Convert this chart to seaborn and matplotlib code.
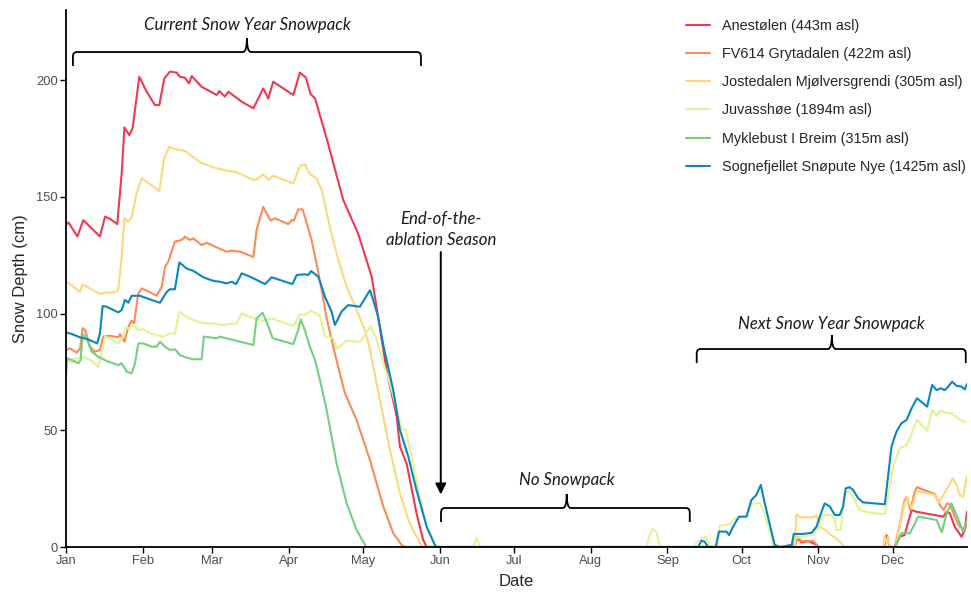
import numpy as np
import pandas as pd
import matplotlib
matplotlib.use("Agg")
import matplotlib.pyplot as plt
import seaborn as sns
from matplotlib.path import Path
from matplotlib.patches import PathPatch

# ---------------- data ----------------
stations = [
    "Anestølen (443m asl)",
    "FV614 Grytadalen (422m asl)",
    "Jostedalen Mjølversgrendi (305m asl)",
    "Juvasshøe (1894m asl)",
    "Myklebust I Breim (315m asl)",
    "Sognefjellet Snøpute Nye (1425m asl)",
]
colors = ["#EE3A4F", "#F98B56", "#FDD87C", "#E2F294", "#74CF7F", "#0A86C0"]

month_starts = [0, 31, 59, 90, 120, 151, 181, 212, 243, 273, 304, 334]
month_labels = ["Jan", "Feb", "Mar", "Apr", "May", "Jun", "Jul", "Aug", "Sep", "Oct", "Nov", "Dec"]
y_ticks = [0, 50, 100, 150, 200]

# day of year (0 = 1 Jan) and snow depth (cm)
anestolen_day = [0, 1, 4.6, 7, 13.7, 15.8, 17.8, 20.7, 22.5, 23.6, 25.6, 26.9, 29.6, 32.6, 35.9, 37.7,
                 39.7, 42, 44.7, 46, 48, 49.7, 50.8, 54.8, 60.9, 61.9, 64.2, 65.6, 71, 75.7, 79.7, 81.7,
                 83.7, 91.8, 94.5, 96.9, 98.8, 100.6, 105.3, 112, 118, 123.5, 129.5, 133.6, 134.9, 137.6,
                 141.6, 144.3, 145.7, 294, 295.5, 297, 300, 303, 304, 330.5, 331.5, 332.8, 335, 336.8,
                 338.8, 340.1, 341.6, 343.6, 354.4, 355.8, 357.1, 359, 361.8, 363.1, 364]
anestolen_cm = [138, 139, 133, 140, 133, 141.5, 140.5, 138.3, 160, 179.7, 176.4, 179.3, 201.4, 195, 189.3, 189.3,
                200.7, 203.6, 203.2, 201.4, 201, 198.6, 201.7, 197.1, 193.6, 195.3, 192.9, 195, 190.7, 187.9, 196.4, 192.1,
                199.3, 193.6, 203.2, 201.1, 194, 192.1, 175, 148.6, 134.3, 115.8, 75.8, 55.8, 43, 35.8,
                14.4, 3, 0, 0, 4, 2, 2.5, 1, 0, 0, 5, 0, 0, 4.4,
                5.1, 10.1, 15.8, 15.1, 13, 15.1, 14.4, 8.7, 4.4, 7.3, 15.1]

fv614_day = [0, 1.6, 4.3, 5.7, 6.7, 7.7, 9.7, 11.7, 13.7, 15.1, 17.8, 21.1, 21.8, 23.6, 25.2, 26.5, 27.5,
             29.2, 30.6, 33.9, 36.6, 38.7, 40, 41.3, 44, 46.7, 48.1, 50.1, 51.4, 54.8, 56.8, 60.9, 64.9,
             66.9, 70.3, 75.7, 77, 79.7, 81, 82.7, 84.4, 89.8, 91.2, 92.1, 93.8, 95.6, 96.9, 99.2, 101.2,
             103.3, 105.3, 108.6, 112.7, 117.4, 122.8, 128.2, 132.2, 135.6, 136.9, 294.4, 295.5, 297, 302,
             304, 334.8, 336.8, 338.8, 339.8, 341.1, 342.9, 343.8, 351, 353, 354.6, 356, 357.3, 359, 361.1,
             363.1, 364]
fv614_cm = [84.4, 85.1, 83.2, 85.1, 93.7, 92.9, 85.8, 83.6, 84.4, 90.1, 90.5, 89.8, 91.2, 87.9, 94.3, 96.9, 95.8,
            108.6, 110.8, 109.1, 107.6, 111.5, 120, 122.2, 130.8, 131.5, 132.9, 131.5, 132.2, 129.3, 130.3, 128.3, 126.5,
            126.9, 126.5, 124.2, 135.8, 145.7, 142.9, 139.8, 140.8, 138.3, 140, 139.8, 144.6, 144.6, 140, 131.5, 121.5,
            110, 98, 83, 65.8, 54.4, 37.3, 17.3, 5.9, 0.9, 0, 0, 4.5, 2.5, 2.5,
            0, 0, 9.4, 20.1, 21.3, 15.8, 23.7, 25.6, 22.7, 18, 15.8, 18.7, 18, 13, 8.7,
            7.3, 10.1]

jostedalen_day = [0, 3, 5.7, 6.7, 13.7, 16.4, 19.1, 21.1, 22.5, 23.6, 25.2, 26.5, 28.5, 30.6, 32.6, 37.7,
                  39.7, 41.7, 44, 48.1, 54.1, 59.5, 64.9, 68.9, 75.7, 77, 79.7, 81.7, 83.7, 91.8, 94.5, 96.5,
                  98.3, 101.2, 103.3, 106.6, 110, 113.4, 117.4, 120.8, 122.8, 126.8, 130.9, 134.9, 138.9, 143,
                  144.3, 294.4, 295.1, 296.6, 301.8, 303.2, 304.5, 307.2, 309.2, 311.2, 314.6, 330.3, 330.8,
                  331.5, 332.1, 332.8, 335, 336.8, 338.8, 339.8, 341.6, 343.6, 345, 351, 352.4, 354.4, 356.4,
                  358.2, 359.8, 361.1, 362.4, 364]
jostedalen_cm = [113.8, 111.5, 109.3, 112.5, 108.4, 109.1, 108.9, 110, 124.3, 140.8, 139.3, 141.2, 151.5, 157.9, 156.4, 152.5,
                 166.5, 171.4, 170.4, 169.6, 164.8, 162.6, 161.2, 160.5, 157.2, 157.5, 159.7, 157.2, 159, 155.8, 163.2, 164,
                 160, 157.9, 152.9, 137.2, 122.9, 111.5, 101.5, 92.9, 84.4, 63, 41.5, 23, 10.1, 1.6,
                 0, 0, 14, 12.7, 12.7, 13.7, 8.7, 7, 5, 3.7, 0, 0, 4.4,
                 1.6, 4.4, 0, 0, 8.7, 18.7, 20.9, 16.6, 23.7, 23.7, 22.3, 18.7, 22.3, 25.8,
                 29.4, 26.6, 22.3, 21.5, 30.1]

juvasshoe_day = [0, 0.9, 2.3, 3.6, 5.7, 7, 10.4, 13, 14.4, 15.8, 17.8, 21.1, 23.1, 23.8, 25.8, 27.2, 29.2,
                 31.2, 33.9, 39.3, 42, 44, 45.8, 48.7, 51.4, 55.5, 59.5, 63.5, 68.9, 71, 74.3, 76.3, 79.7,
                 83.1, 91.8, 94.5, 96.5, 99, 102.6, 104.6, 108, 109.3, 111, 113.4, 118.7, 120.8, 123.1, 125.5,
                 128.2, 130.9, 133.6, 135.6, 137.3, 139.6, 143, 145.7, 149, 150.4, 164.5, 165.9, 167.3, 234.5,
                 236, 237.2, 238.5, 240, 253.3, 254.7, 256.7, 258.5, 260.1, 260.8, 262.8, 264.1, 268.2, 269.8,
                 271.9, 274.9, 276.9, 280.3, 282.3, 285.7, 286.3, 293.1, 294.4, 297.1, 301.2, 303.8, 305.8,
                 308.6, 310.6, 311.2, 312.9, 313.9, 315, 316.6, 318, 320.7, 324.7, 330.8, 332.1, 334.2, 336.8,
                 339.6, 341.6, 343.8, 347.9, 349.9, 351.7, 353.1, 355.7, 358, 360.4, 362.4, 364]
juvasshoe_cm = [78.7, 80.1, 78.7, 80.8, 80.8, 81.5, 79.7, 77.2, 83, 90.1, 89.4, 87.2, 90.1, 93.7, 93.7, 95.1, 92.9,
                93.4, 91.5, 90.1, 91.5, 91.5, 100.8, 98.6, 97.2, 95.8, 95.8, 95.1, 95.8, 100, 98.6, 97.9, 96.9,
                97.9, 94.6, 99.8, 99.4, 101.2, 99, 90.1, 89.4, 85.1, 86.3, 88.5, 87.9, 90.8, 94.6, 89,
                78.7, 70.1, 58.7, 50.8, 50.1, 38.7, 21.5, 8.7, 0.9, 0, 0, 4, 0, 0,
                6, 7.6, 6.5, 0, 0, 1.8, 3.7, 4.4, 0.9, 0, 0, 9, 9.9, 11.8,
                12.7, 13, 18.4, 19, 14.4, 0.9, 0, 0, 3.7, 4.4, 5.1, 8, 13.7,
                13.7, 12.3, 7.3, 7.3, 15.8, 23.7, 23.3, 21.5, 15.8, 14.7, 14.1, 21.5, 34.4, 42.3,
                43.7, 48.7, 54.4, 49.8, 58.7, 56.1, 58.4, 57.5, 57.2, 55.1, 53.7, 53.7]

myklebust_day = [0, 0.5, 2.3, 5, 5.9, 6.7, 8.3, 10.4, 13, 16.4, 21.1, 22.5, 24.5, 26.5, 27.9, 29.2, 31.2,
                 34.6, 36.6, 38, 40, 42, 44, 46, 48.7, 51.4, 54.8, 55.7, 60.9, 62.2, 75.7, 77, 79.4, 81, 83.5,
                 91.8, 93.8, 94.8, 96.5, 98.5, 100.6, 102.6, 105.3, 109.3, 113.4, 117.4, 120.8, 121.4, 334.8,
                 337.5, 340.9, 342.9, 344.2, 351.7, 353.8, 355.8, 357.7, 359.8, 362.4, 364]
myklebust_cm = [73, 80.8, 80.1, 78.7, 80.1, 91.2, 89.4, 83.6, 81.5, 79.7, 77.9, 78.7, 75.1, 74.4, 78.7, 87.2, 87.2,
                85.8, 85.8, 87.9, 85.8, 84.4, 84.7, 82.2, 81.1, 80.4, 80.4, 90.1, 89.4, 90.1, 86.5, 97.9, 100.3, 96.5, 89.4,
                86.9, 92.9, 97.5, 92.9, 85.8, 80.1, 71.5, 58.7, 35.8, 18.7, 7.3, 0.9, 0, 0,
                5.9, 5.9, 9.9, 13, 11.6, 6.3, 14.4, 18.7, 13.7, 6.6, 11.6]

sognefjellet_day = [0, 1.6, 5.7, 9, 12.6, 13.7, 14.8, 16.4, 21.1, 22.5, 23.8, 25.2, 26.5, 29.9, 34.6, 38,
                    40.7, 42, 44, 45.8, 48.7, 51.4, 55.5, 59.5, 62.2, 64.9, 66.9, 68.7, 71, 74.3, 80.4, 83.1,
                    91.5, 93.2, 96.5, 97.9, 99, 101.9, 103.3, 104.6, 107.3, 108.6, 110, 111.3, 114, 118.7,
                    120.8, 122.8, 124.1, 126.1, 128.2, 132.2, 134.9, 138.3, 141.6, 145.7, 149, 149.7, 255.4,
                    256.7, 258, 259.4, 262.5, 263.8, 266.8, 267.9, 269.5, 271.9, 274.9, 276.9, 278.9, 280.7,
                    282.3, 286.3, 288.4, 291, 292.4, 293.1, 294, 297.8, 301.2, 303.2, 305.2, 306.5, 308.6,
                    310.6, 312.6, 313.9, 315, 316.6, 318, 320, 322, 330.8, 332.1, 333.5, 335.5, 337.5, 339.6,
                    341.6, 343.8, 347.9, 349.9, 351.7, 353.3, 355, 356.4, 358, 359.8, 361.8, 363.1, 364]
sognefjellet_cm = [91.9, 91.5, 89.8, 88.9, 87.2, 91.5, 103.2, 102.9, 100.5, 101.5, 105.8, 104.6, 107.6, 107.6, 105.8, 104.6,
                   109.3, 110.4, 110.4, 121.9, 119.3, 118.3, 115.5, 114, 113.6, 112.9, 113.6, 112.6, 117.2, 115.8, 112.6, 115.5,
                   112.6, 116.5, 116.8, 116.5, 118.2, 115.8, 111.5, 107.2, 100.8, 95.1, 97.9, 100.8, 103.6, 102.9,
                   106.5, 110, 105.8, 98.6, 86.5, 67.2, 50.1, 38.7, 24.4, 8.7, 0.9, 0, 0,
                   2.7, 2.3, 0, 0, 6.6, 6.6, 5.1, 8.7, 13, 13, 20.1, 22.3, 26.6,
                   18.7, 0.9, 0, 0.4, 0.9, 0, 5.6, 5.6, 6.1, 8.7, 15, 18.7, 17.3,
                   13.7, 13.7, 17.3, 25.1, 25.6, 24.4, 20.9, 19.1, 18.3, 30.1, 43, 49.4, 53, 54.4,
                   59.4, 63.7, 60.1, 69.4, 67.2, 68, 67.2, 68.7, 70.8, 69, 68.7, 67.5, 69.8]

series_days = [anestolen_day, fv614_day, jostedalen_day, juvasshoe_day, myklebust_day, sognefjellet_day]
series_cm = [anestolen_cm, fv614_cm, jostedalen_cm, juvasshoe_cm, myklebust_cm, sognefjellet_cm]

df = pd.concat(
    [pd.DataFrame({"day": d, "depth": v, "station": s}) for s, d, v in zip(stations, series_days, series_cm)],
    ignore_index=True,
)

# ---------------- figure ----------------
sns.set_style("ticks")
plt.rcParams["font.family"] = ["Liberation Sans", "DejaVu Sans"]

W, H = 971, 592
fig = plt.figure(figsize=(W / 100, H / 100), dpi=100)
ax = fig.add_axes([66 / W, 1 - 547 / H, (967 - 66) / W, (547 - 10) / H])

sns.lineplot(data=df, x="day", y="depth", hue="station", hue_order=stations,
             palette=colors, estimator=None, sort=True, lw=1.5, ax=ax)

ax.set_xlim(0, 364)
ax.set_ylim(0, 230)
ax.set_xticks(month_starts)
ax.set_xticklabels(month_labels)
ax.set_yticks(y_ticks)
ax.tick_params(axis="both", direction="out", length=4, width=1.0, color="black",
               labelsize=9.3, labelcolor="#4D4D4D", pad=2)
for side in ["top", "right"]:
    ax.spines[side].set_visible(False)
for side in ["left", "bottom"]:
    ax.spines[side].set_linewidth(1.3)
    ax.spines[side].set_color("black")
ax.set_xlabel("Date", fontsize=12, labelpad=5)
ax.set_ylabel("Snow Depth (cm)", fontsize=12, labelpad=6)
ax.grid(False)

handles, labels = ax.get_legend_handles_labels()
ax.legend(handles, labels, loc="upper left", bbox_to_anchor=(686 / W, 1 - 19 / H),
          bbox_transform=fig.transFigure, frameon=False, borderaxespad=0, borderpad=0,
          handlelength=1.65, handletextpad=0.85, labelspacing=0.98, fontsize=10.4)

# ---------------- annotations ----------------
ann_font = dict(family=["Lato", "DejaVu Sans"], style="italic", weight="normal",
                fontsize=12.1, color="#1a1a1a")


def brace(x0, x1, y, xm, depth=6.0, height=6.0, cx=1.6, cy=2.0):
    verts = [(x0, y - depth), (x0, y - cy), (x0, y), (x0 + cx, y),
             (xm - cx, y), (xm, y), (xm, y + height),
             (xm, y), (xm + cx, y),
             (x1 - cx, y), (x1, y), (x1, y - cy), (x1, y - depth)]
    codes = [Path.MOVETO, Path.LINETO, Path.CURVE3, Path.CURVE3,
             Path.LINETO, Path.CURVE3, Path.CURVE3,
             Path.CURVE3, Path.CURVE3,
             Path.LINETO, Path.CURVE3, Path.CURVE3, Path.LINETO]
    ax.add_patch(PathPatch(Path(verts, codes), fill=False, lw=1.3, ec="black", capstyle="butt"))


brace(2.8, 143.4, 212, 73.1)
ax.text(73.1, 223.6, "Current Snow Year Snowpack", ha="center", va="center", **ann_font)

brace(151.5, 252, 16.7, 202.3)
ax.text(202.3, 28.7, "No Snowpack", ha="center", va="center", **ann_font)

brace(254.8, 363.5, 84.8, 309.4)
ax.text(309.4, 95.5, "Next Snow Year Snowpack", ha="center", va="center", **ann_font)

ax.annotate("", xy=(151.4, 22.5), xytext=(151.4, 126.3),
            arrowprops=dict(arrowstyle="-|>", color="black", lw=1.4, mutation_scale=16,
                            shrinkA=0, shrinkB=0))
ax.text(151.4, 136.0, "End-of-the-\nablation Season", ha="center", va="center",
        linespacing=1.45, **ann_font)

fig.savefig("out.png", dpi=100)
